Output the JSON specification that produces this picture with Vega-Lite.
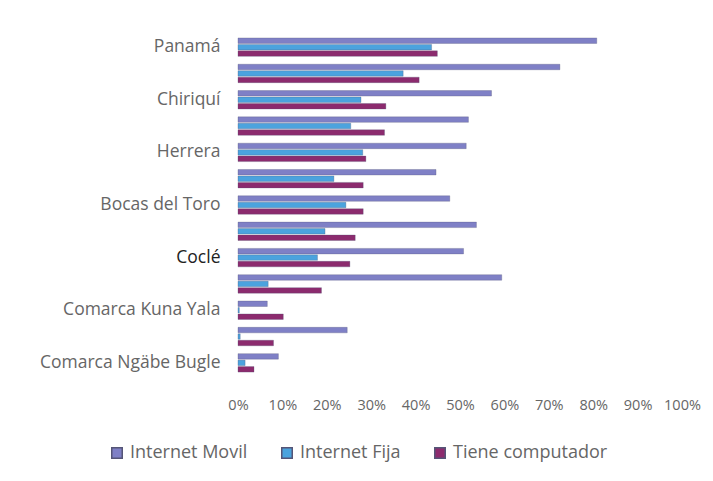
{
  "$schema": "https://vega.github.io/schema/vega-lite/v6.json",
  "width": 444,
  "height": 342,
  "autosize": {"type": "none"},
  "padding": {"left": 238, "top": 34, "right": 31, "bottom": 105},
  "background": "white",
  "config": {"view": {"stroke": null}, "font": "Open Sans"},
  "data": {"values": [
    {"region": "Panamá", "serie": "Internet Movil", "value": 80.8},
    {"region": "Panamá", "serie": "Internet Fija", "value": 43.6},
    {"region": "Panamá", "serie": "Tiene computador", "value": 44.9},
    {"region": "Panamá Oeste", "serie": "Internet Movil", "value": 72.5},
    {"region": "Panamá Oeste", "serie": "Internet Fija", "value": 37.2},
    {"region": "Panamá Oeste", "serie": "Tiene computador", "value": 40.8},
    {"region": "Chiriquí", "serie": "Internet Movil", "value": 57.1},
    {"region": "Chiriquí", "serie": "Internet Fija", "value": 27.7},
    {"region": "Chiriquí", "serie": "Tiene computador", "value": 33.3},
    {"region": "Colón", "serie": "Internet Movil", "value": 51.9},
    {"region": "Colón", "serie": "Internet Fija", "value": 25.4},
    {"region": "Colón", "serie": "Tiene computador", "value": 33.0},
    {"region": "Herrera", "serie": "Internet Movil", "value": 51.4},
    {"region": "Herrera", "serie": "Internet Fija", "value": 28.1},
    {"region": "Herrera", "serie": "Tiene computador", "value": 28.8},
    {"region": "Los Santos", "serie": "Internet Movil", "value": 44.6},
    {"region": "Los Santos", "serie": "Internet Fija", "value": 21.6},
    {"region": "Los Santos", "serie": "Tiene computador", "value": 28.2},
    {"region": "Bocas del Toro", "serie": "Internet Movil", "value": 47.7},
    {"region": "Bocas del Toro", "serie": "Internet Fija", "value": 24.3},
    {"region": "Bocas del Toro", "serie": "Tiene computador", "value": 28.2},
    {"region": "Veraguas", "serie": "Internet Movil", "value": 53.7},
    {"region": "Veraguas", "serie": "Internet Fija", "value": 19.6},
    {"region": "Veraguas", "serie": "Tiene computador", "value": 26.4},
    {"region": "Coclé", "serie": "Internet Movil", "value": 50.8},
    {"region": "Coclé", "serie": "Internet Fija", "value": 17.9},
    {"region": "Coclé", "serie": "Tiene computador", "value": 25.2},
    {"region": "Darién", "serie": "Internet Movil", "value": 59.4},
    {"region": "Darién", "serie": "Internet Fija", "value": 6.8},
    {"region": "Darién", "serie": "Tiene computador", "value": 18.8},
    {"region": "Comarca Kuna Yala", "serie": "Internet Movil", "value": 6.6},
    {"region": "Comarca Kuna Yala", "serie": "Internet Fija", "value": 0.3},
    {"region": "Comarca Kuna Yala", "serie": "Tiene computador", "value": 10.2},
    {"region": "Comarca Emberá", "serie": "Internet Movil", "value": 24.6},
    {"region": "Comarca Emberá", "serie": "Internet Fija", "value": 0.5},
    {"region": "Comarca Emberá", "serie": "Tiene computador", "value": 8.0},
    {"region": "Comarca Ngäbe Bugle", "serie": "Internet Movil", "value": 9.1},
    {"region": "Comarca Ngäbe Bugle", "serie": "Internet Fija", "value": 1.6},
    {"region": "Comarca Ngäbe Bugle", "serie": "Tiene computador", "value": 3.6}
  ]},
  "mark": {"type": "bar", "strokeWidth": 0.6, "stroke": "#555577", "strokeOpacity": 0.5},
  "encoding": {
    "y": {
      "field": "region", "type": "nominal", "sort": null, "title": null,
      "scale": {"paddingInner": 0.3, "paddingOuter": 0.15},
      "axis": {
        "values": ["Panamá", "Chiriquí", "Herrera", "Bocas del Toro", "Coclé", "Comarca Kuna Yala", "Comarca Ngäbe Bugle"],
        "domain": false, "ticks": false, "labelPadding": 18, "labelLimit": 300,
        "labelFontSize": 17.5, "labelFont": "Open Sans", "labelOverlap": false,
        "labelColor": {"condition": {"test": "datum.value === 'Coclé'", "value": "#222222"}, "value": "#666666"}
      }
    },
    "yOffset": {"field": "serie", "type": "nominal", "sort": ["Internet Movil", "Internet Fija", "Tiene computador"], "scale": {"paddingInner": 0.15}},
    "x": {
      "field": "value", "type": "quantitative", "title": null,
      "scale": {"domain": [0, 100], "nice": false},
      "axis": {
        "values": [0, 10, 20, 30, 40, 50, 60, 70, 80, 90, 100],
        "labelExpr": "datum.value + '%'",
        "grid": false, "domain": false, "ticks": false,
        "labelFontSize": 14.5, "labelColor": "#666666", "labelPadding": 22,
        "labelFont": "Open Sans", "labelOverlap": false, "labelBound": false, "labelFlush": false
      }
    },
    "color": {
      "field": "serie", "type": "nominal", "title": null,
      "sort": ["Internet Movil", "Internet Fija", "Tiene computador"],
      "scale": {"domain": ["Internet Movil", "Internet Fija", "Tiene computador"], "range": ["#7f80c6", "#4ba3de", "#8c2b6e"]},
      "legend": {
        "orient": "none", "direction": "horizontal", "legendX": -130, "legendY": 410,
        "symbolType": "square", "symbolSize": 110, "labelFontSize": 18,
        "labelColor": "#666666", "columnPadding": 30, "labelFont": "Open Sans"
      }
    }
  }
}
